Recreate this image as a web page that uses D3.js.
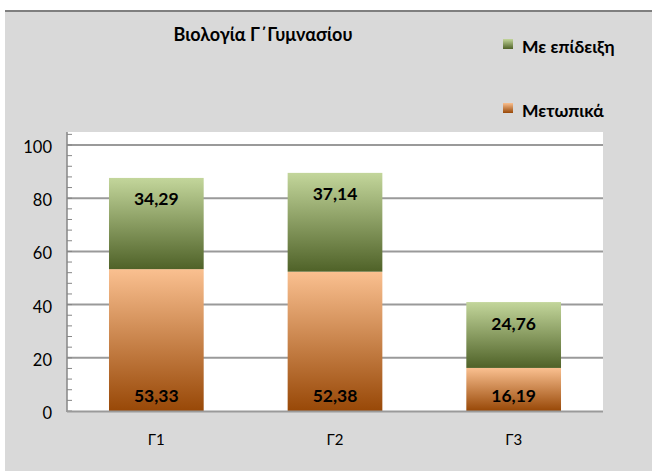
<!DOCTYPE html>
<html><head><meta charset="utf-8">
<script src="https://cdn.jsdelivr.net/npm/d3@7"></script>
<style>
html,body{margin:0;padding:0;background:#fff;}
svg{display:block;}
</style></head>
<body>
<svg id="c" width="652" height="471"></svg>
<script>
const categories = ["Γ1", "Γ2", "Γ3"];
const seriesNames = ["Μετωπικά", "Με επίδειξη"];
const metopika = [53.33, 52.38, 16.19];
const epideiksi = [34.29, 37.14, 24.76];
const yTicks = [0, 20, 40, 60, 80, 100];
const title = "Βιολογία Γ΄Γυμνασίου";

const svg = d3.select("#c");
const W = 652, H = 471;
const font = "Lato, 'Open Sans', 'Noto Sans', sans-serif";

// background
svg.append("rect").attr("x", 5).attr("y", 11).attr("width", W - 5).attr("height", H - 11).attr("fill", "#d9d9d9");
svg.append("line").attr("x1", 5).attr("x2", W).attr("y1", 11).attr("y2", 11).attr("stroke", "#7f7f7f").attr("stroke-width", 2);

const plot = {l: 67, r: 603, t: 132, b: 411};
svg.append("rect").attr("x", plot.l).attr("y", plot.t).attr("width", plot.r - plot.l).attr("height", plot.b - plot.t).attr("fill", "#fff");

const y = d3.scaleLinear().domain([0, 105]).range([plot.b, plot.b - (plot.b - 145) * 1.05]);
const x = d3.scaleBand().domain(categories).range([plot.l, plot.r]).paddingInner(0.47).paddingOuter(0.235);

// gradients
const defs = svg.append("defs");
function grad(id, top, bottom) {
  const g = defs.append("linearGradient").attr("id", id).attr("x1", 0).attr("y1", 0).attr("x2", 0).attr("y2", 1);
  g.append("stop").attr("offset", "0%").attr("stop-color", top);
  g.append("stop").attr("offset", "100%").attr("stop-color", bottom);
}
grad("gGreen", "#c3d69b", "#4f6228");
grad("gOrange", "#fac090", "#984807");

// gridlines
svg.append("g").selectAll("line").data(yTicks.filter(d => d > 0)).join("line")
  .attr("x1", plot.l).attr("x2", plot.r).attr("y1", d => y(d)).attr("y2", d => y(d))
  .attr("stroke", "#9a9a9a").attr("stroke-width", 2);

// bars
const stacked = categories.map((c, i) => ({c, a: metopika[i], b: epideiksi[i]}));
const g = svg.append("g");
g.selectAll("rect.o").data(stacked).join("rect").attr("class", "o")
  .attr("x", d => x(d.c)).attr("width", x.bandwidth())
  .attr("y", d => y(d.a)).attr("height", d => y(0) - y(d.a))
  .attr("fill", "url(#gOrange)");
g.selectAll("rect.g").data(stacked).join("rect").attr("class", "g")
  .attr("x", d => x(d.c)).attr("width", x.bandwidth())
  .attr("y", d => y(d.a + d.b)).attr("height", d => y(d.a) - y(d.a + d.b))
  .attr("fill", "url(#gGreen)");

const fmt = v => v.toFixed(2).replace(".", ",");
g.selectAll("text.lo").data(stacked).join("text").attr("class", "lo")
  .attr("x", d => x(d.c) + x.bandwidth() / 2).attr("y", d => y(0) - 16)
  .attr("text-anchor", "middle").attr("dominant-baseline", "central")
  .attr("font-family", font).attr("font-weight", "bold").attr("font-size", 17.5).attr("fill", "#000")
  .text(d => fmt(d.a));
g.selectAll("text.lg").data(stacked).join("text").attr("class", "lg")
  .attr("x", d => x(d.c) + x.bandwidth() / 2).attr("y", d => y(d.a + d.b) + 21)
  .attr("text-anchor", "middle").attr("dominant-baseline", "central")
  .attr("font-family", font).attr("font-weight", "bold").attr("font-size", 17.5).attr("fill", "#000")
  .text(d => fmt(d.b));

// y axis
const minor = d3.range(0, 105, 4);
const ax = svg.append("g");
ax.append("line").attr("x1", plot.l).attr("x2", plot.l).attr("y1", plot.t).attr("y2", plot.b + 1).attr("stroke", "#868686").attr("stroke-width", 1.5);
ax.selectAll("line.t").data(minor).join("line").attr("class", "t")
  .attr("x1", plot.l).attr("x2", plot.l + 5).attr("y1", d => y(d)).attr("y2", d => y(d))
  .attr("stroke", "#868686").attr("stroke-width", 1);
ax.selectAll("text").data(yTicks).join("text")
  .attr("x", 52).attr("y", d => y(d) + 2).attr("text-anchor", "end").attr("dominant-baseline", "central")
  .attr("font-family", font).attr("font-size", 16.5).attr("fill", "#000").text(d => d);
// x axis line
svg.append("line").attr("x1", plot.l).attr("x2", plot.r).attr("y1", plot.b + 0.5).attr("y2", plot.b + 0.5).attr("stroke", "#9a9a9a").attr("stroke-width", 2);
svg.append("g").selectAll("text").data(categories).join("text")
  .attr("x", d => x(d) + x.bandwidth() / 2).attr("y", 439).attr("text-anchor", "middle").attr("dominant-baseline", "central")
  .attr("font-family", font).attr("font-size", 15).attr("fill", "#000").text(d => d);

// title
svg.append("text").attr("x", 263).attr("y", 34).attr("text-anchor", "middle").attr("dominant-baseline", "central")
  .attr("font-family", font).attr("font-weight", "bold").attr("font-size", 18).attr("fill", "#000").text(title);

// legend
const legend = [{name: seriesNames[1], fill: "url(#gGreen)", y: 39}, {name: seriesNames[0], fill: "url(#gOrange)", y: 103}];
const lg = svg.append("g").selectAll("g").data(legend).join("g");
lg.append("rect").attr("x", 503).attr("y", d => d.y).attr("width", 10).attr("height", 10).attr("fill", d => d.fill);
lg.append("text").attr("x", 522).attr("y", d => d.y + 7).attr("dominant-baseline", "central")
  .attr("font-family", font).attr("font-weight", "bold").attr("font-size", 17.5).attr("fill", "#000").text(d => d.name);
</script>
</body></html>
